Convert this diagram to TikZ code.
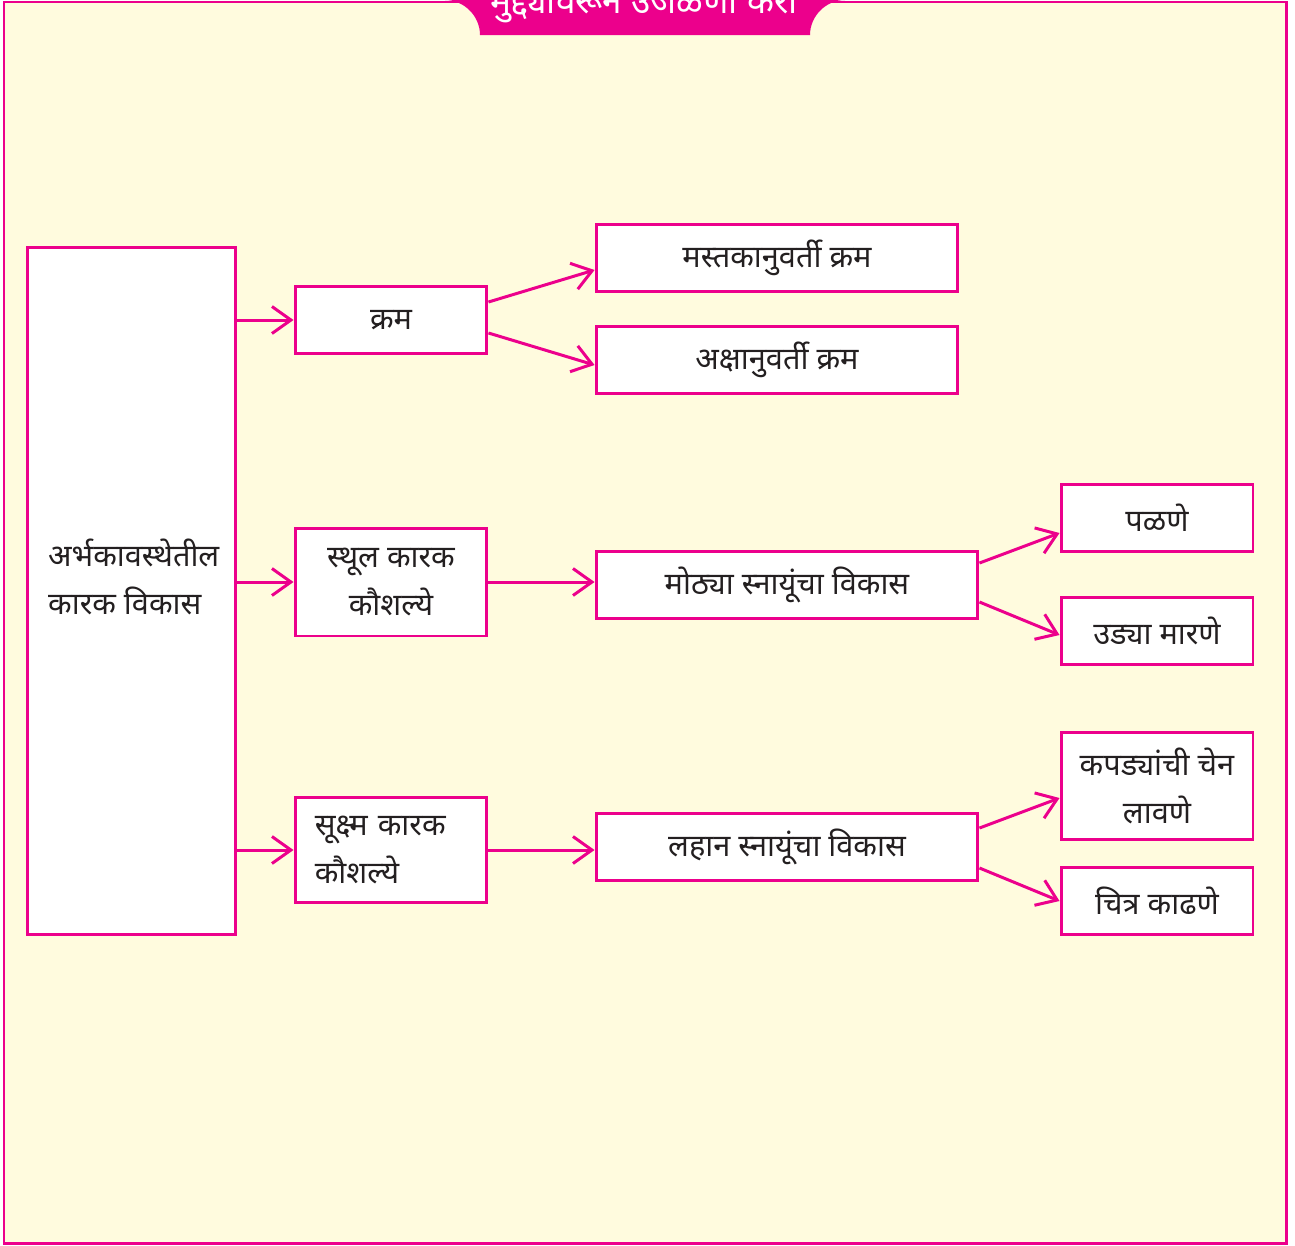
\documentclass[tikz,border=0pt]{standalone}
\usepackage{fontspec}
\usepackage{xcolor}
\usetikzlibrary{arrows.meta,positioning,calc}
\newfontfamily\devfont[Script=Devanagari]{Noto Sans}
\definecolor{pagebg}{RGB}{255,251,222}
\definecolor{tabpink}{RGB}{236,0,140}
\definecolor{inkgray}{RGB}{35,31,32}

\begin{document}
\begin{tikzpicture}[
    x=0.02cm, y=-0.02cm,
    box/.style={rectangle, draw=tabpink, fill=white, line width=1.7pt, align=center, minimum width=3.84cm, minimum height=1.35cm, text=inkgray, font=\devfont\fontsize{17.5}{27}\selectfont},
    widebox/.style={box, minimum width=7.5cm},
    tallbox/.style={box, minimum height=2.16cm},
    arr/.style={-{Straight Barb[length=0.38cm, width=0.54cm]}, line width=1.7pt, draw=tabpink}
]
    \useasboundingbox (0,0) rectangle (1295,1245);
    % page and title tab
    \draw [tabpink, line width=1.7pt, fill=pagebg] (4,2) rectangle (1286,1243);
    \fill [tabpink] (445,-10) -- (445,0) .. controls (464,0) and (480,16) .. (480,35) -- (810,35)
        .. controls (810,16) and (826,0) .. (845,0) -- (845,-10) -- cycle;
    \node [anchor=base, text=white, font=\devfont\bfseries\fontsize{20}{22}\selectfont] (title) at (644,13) {मुद्द्यांवरून उजळणी करा};

    % main box
    \node [box, minimum width=4.18cm, minimum height=13.76cm] (main) at (131.5,591) {};
    \node [anchor=west, align=left, text=inkgray, font=\devfont\fontsize{17.5}{27}\selectfont] (maintext) at (42,577) {अर्भकावस्थेतील\\कारक विकास};

    % second column
    \node [box] (krama) at (391,320) {क्रम};
    \node [tallbox] (sthul) at (391,582) {स्थूल कारक\\कौशल्ये};
    \node [box, minimum height=2.1cm, align=left, text width=3.05cm] (sukshma) at (391,850) {सूक्ष्म कारक\\कौशल्ये};

    % third column
    \node [box, minimum width=7.24cm] (mastak) at (777,258) {मस्तकानुवर्ती क्रम};
    \node [box, minimum width=7.24cm] (aksha) at (777,360) {अक्षानुवर्ती क्रम};
    \node [widebox, minimum width=7.64cm] (moth) at (787,585) {मोठ्या स्नायूंचा विकास};
    \node [widebox, minimum width=7.64cm] (lahan) at (787,847) {लहान स्नायूंचा विकास};

    % fourth column
    \node [box] (palne) at (1157,518) {पळणे};
    \node [box] (udya) at (1157,631) {उड्या मारणे};
    \node [box, minimum height=2.14cm] (kapad) at (1157,786) {कपड्यांची चेन\\लावणे};
    \node [box] (chitra) at (1157,901) {चित्र काढणे};

    \draw [arr] (main.east |- krama) -- (krama.west);
    \draw [arr] (main.east |- sthul) -- (sthul.west);
    \draw [arr] (main.east |- sukshma) -- (sukshma.west);

    \draw [arr] ([yshift=0.36cm]krama.east) -- ([yshift=-0.24cm]mastak.west);
    \draw [arr] ([yshift=-0.26cm]krama.east) -- ([yshift=-0.1cm]aksha.west);
    \draw [arr] (sthul.east) -- (sthul.east -| moth.west);
    \draw [arr] (sukshma.east) -- (sukshma.east -| lahan.west);

    \draw [arr] ([yshift=0.44cm]moth.east) -- ([yshift=-0.3cm]palne.west);
    \draw [arr] ([yshift=-0.34cm]moth.east) -- ([yshift=-0.08cm]udya.west);
    \draw [arr] ([yshift=0.38cm]lahan.east) -- ([yshift=-0.24cm]kapad.west);
    \draw [arr] ([yshift=-0.42cm]lahan.east) -- (chitra.west);
\end{tikzpicture}
\end{document}
